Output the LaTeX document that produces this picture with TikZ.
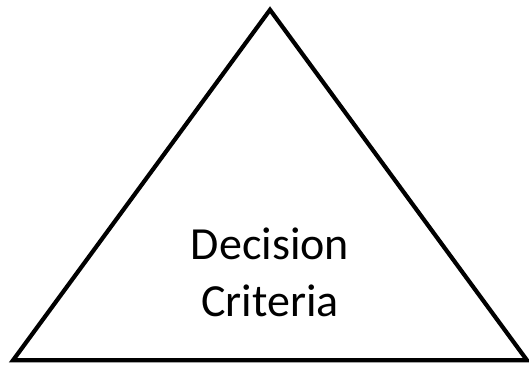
\documentclass[tikz,border=0pt]{standalone}
\usepackage{fontspec}
\setmainfont{Carlito}
\usetikzlibrary{positioning}
\tikzset{
  triline/.style  = {line width=4.2pt, black, line join=miter},
  crittext/.style = {font=\fontsize{46}{57}\selectfont, align=center, inner sep=0pt},
}

\begin{document}
\begin{tikzpicture}[x=1pt,y=-1pt]
  \useasboundingbox[fill=white] (0,0) rectangle (529,366);
  \coordinate (apex)  at (270,9.8);
  \coordinate (left)  at (13,360.3);
  \coordinate (right) at (527,360.3);
  \draw[triline] (apex) -- (right) -- (left) -- cycle;
  \node[crittext] (criteria) at (270,272.5) {Decision\\Criteria};
\end{tikzpicture}
\end{document}
